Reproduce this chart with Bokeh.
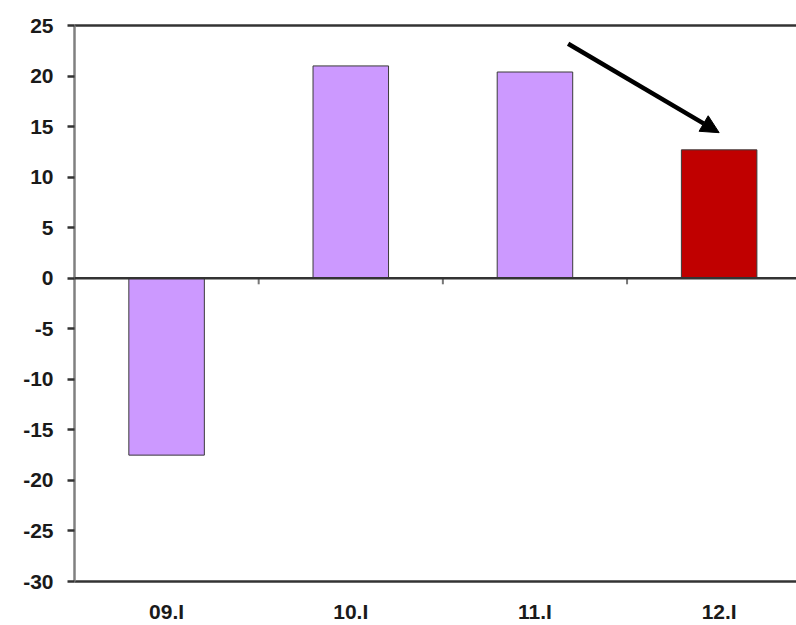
from bokeh.plotting import figure
from bokeh.models import Range1d, FixedTicker, LinearAxis, Span, Arrow, NormalHead
from bokeh.embed import file_html
from bokeh.resources import INLINE

categories = ["09.I", "10.I", "11.I", "12.I"]
values = [-17.5, 21.0, 20.4, 12.7]
colors = ["#CC99FF", "#CC99FF", "#CC99FF", "#C00000"]
y_ticks = [-30, -25, -20, -15, -10, -5, 0, 5, 10, 15, 20, 25]

xs = list(range(len(categories)))

p = figure(width=796, height=625, output_backend="svg", toolbar_location=None,
           x_range=Range1d(-0.5, 3.42), y_range=Range1d(-30, 25),
           min_border_left=74, min_border_right=0, min_border_top=25, min_border_bottom=38)
p.outline_line_color = None
p.grid.grid_line_color = None
p.background_fill_color = "white"

p.vbar(x=xs, top=values, bottom=0, width=0.41, fill_color=colors,
       line_color="#3a3a3a", line_width=1)

# zero line
p.add_layout(Span(location=0, dimension="width", line_color="#333333", line_width=2.5))
# category boundary ticks on the zero line
bx = [i + 0.5 for i in xs[:-1]]
p.segment(x0=bx, y0=[0] * len(bx), x1=bx, y1=[-0.6] * len(bx), line_color="#777777", line_width=2)

# y axis
ya = p.yaxis[0]
ya.ticker = FixedTicker(ticks=y_ticks)
ya.major_label_overrides = {t: str(t) for t in y_ticks}
ya.axis_line_color = "#808080"
ya.axis_line_width = 2.5
ya.major_tick_line_color = "#333333"
ya.major_tick_line_width = 2.5
ya.major_tick_out = 7
ya.major_tick_in = 0
ya.minor_tick_line_color = None
ya.major_label_text_font = "Liberation Sans"
ya.major_label_text_font_style = "bold"
ya.major_label_text_font_size = "21px"
ya.major_label_text_color = "#1a1a1a"
ya.major_label_standoff = 14

# x axis (bottom)
xa = p.xaxis[0]
xa.ticker = FixedTicker(ticks=xs)
xa.major_label_overrides = {i: c for i, c in enumerate(categories)}
xa.axis_line_color = "#333333"
xa.axis_line_width = 2.5
xa.major_tick_line_color = None
xa.minor_tick_line_color = None
xa.major_label_text_font = "Liberation Sans"
xa.major_label_text_font_style = "bold"
xa.major_label_text_font_size = "21px"
xa.major_label_text_color = "#1a1a1a"
xa.major_label_standoff = 12

# top border line
top = LinearAxis(ticker=FixedTicker(ticks=[]), axis_line_color="#333333", axis_line_width=2.5,
                 major_tick_line_color=None, minor_tick_line_color=None,
                 major_label_text_font_size="0px")
p.add_layout(top, "above")

# arrow
p.add_layout(Arrow(end=NormalHead(size=18, fill_color="black", line_color="black"),
                   x_start=2.18, y_start=23.2, x_end=3.0, y_end=14.4,
                   line_color="black", line_width=4.5))

open("out.html", "w").write(file_html(p, INLINE))
